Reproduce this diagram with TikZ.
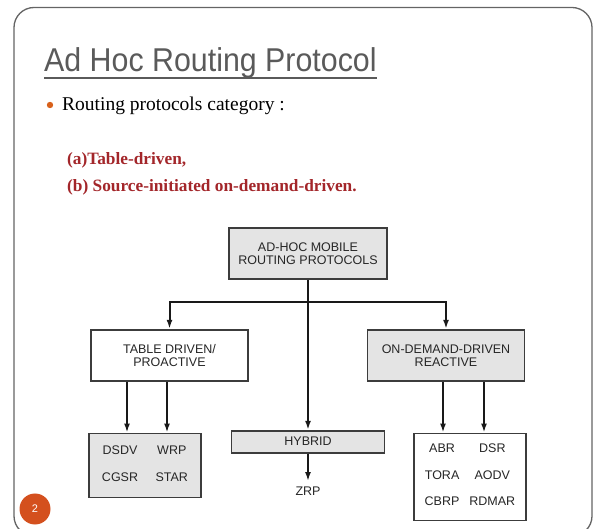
\documentclass[tikz,border=0pt]{standalone}
\usepackage{fontspec}
\setmainfont{Liberation Serif}
\setsansfont{Liberation Sans}
\usepackage{tikz}
\usetikzlibrary{positioning,arrows.meta}
\definecolor{boxgray}{RGB}{228,228,228}
\definecolor{edgegray}{RGB}{60,60,60}
\definecolor{titlegray}{RGB}{90,90,90}
\definecolor{framegray}{RGB}{100,100,100}
\definecolor{darkred}{RGB}{163,38,42}
\definecolor{slideorange}{RGB}{212,80,30}
\tikzstyle{rootbox} = [rectangle, minimum width=158pt, minimum height=51pt, text centered, align=center, draw=edgegray, line width=1.7pt, fill=boxgray, text=black!85, font=\sffamily\fontsize{12.5}{13}\selectfont]
\tikzstyle{catbox} = [rootbox, minimum width=157pt]
\tikzstyle{listbox} = [rootbox, minimum width=112pt]
\tikzstyle{arrow} = [line width=2pt, -{Latex[length=9pt,width=6pt]}, black!90]
\begin{document}
\begin{tikzpicture}[x=1pt, y=-1pt]
		\useasboundingbox (0,0) rectangle (595,529);

		% Slide frame and header
		\draw[framegray, line width=1.3pt, rounded corners=20pt] (14,7.5) rectangle (592,536);
		\node (title) [anchor=base west, inner sep=0pt, text=titlegray, font=\sffamily\fontsize{33}{33}\selectfont] at (44,72) {\scalebox{0.92}[1]{Ad Hoc Routing Protocol}};
		\draw[titlegray, line width=1.8pt] ([yshift=-6pt]title.base west) -- ([yshift=-6pt]title.base east);
		\fill[slideorange!90!yellow] (50,105) circle (3.2);
		\node (category) [anchor=base west, inner sep=0pt, font=\fontsize{19.5}{20}\selectfont] at (62,111) {Routing protocols category :};
		\node (tabletype) [anchor=base west, inner sep=0pt, text=darkred, font=\bfseries\fontsize{17.3}{17}\selectfont] at (67,165) {(a)Table-driven,};
		\node (sourcetype) [anchor=base west, inner sep=0pt, text=darkred, font=\bfseries\fontsize{17.3}{17}\selectfont] at (67,192) {(b) Source-initiated on-demand-driven.};
		\node (pagenum) [circle, fill=slideorange, minimum size=31pt, inner sep=0pt, text=white, font=\sffamily\fontsize{11}{11}\selectfont] at (35,509) {2};

		% Nodes
		\node (root) [rootbox] at (308,253.5) {AD-HOC MOBILE\\ROUTING PROTOCOLS};

		\node (tabledriven) [catbox, fill=white, below=49pt of root, xshift=-138.5pt] {TABLE DRIVEN/\\PROACTIVE};
		\node (reactive) [catbox, below=49pt of root, xshift=138pt] {ON-DEMAND-DRIVEN\\REACTIVE};
		\node (hybrid) [rootbox, minimum width=153pt, minimum height=22pt, below=150pt of root] {HYBRID};

		\node (proact) [listbox, minimum height=64pt, below=51pt of tabledriven, xshift=-24.5pt] {\begin{tabular}{@{}c@{\hspace{17.5pt}}c@{}}DSDV & WRP\\[14pt] CGSR & STAR\end{tabular}};
		\node (reactlist) [listbox, fill=white, minimum height=87pt, below=51pt of reactive, xshift=24pt] {\begin{tabular}{@{}c@{\hspace{10pt}}c@{}}ABR & DSR\\[13.5pt] TORA & AODV\\[13.5pt] CBRP & RDMAR\end{tabular}};
		\node (zrp) [inner sep=6pt, text=black!85, font=\sffamily\fontsize{12.5}{13}\selectfont, below=27.5pt of hybrid] {ZRP};

		% Arrows
		\coordinate (split) at ([yshift=-22pt]root.south);
		\draw [arrow] (root.south) -- (hybrid.north);
		\draw [arrow] (split) -| (tabledriven.north);
		\draw [arrow] (split) -| (reactive.north);
		\draw [arrow] (hybrid.south) -- (zrp.north);

		\coordinate (pa) at ([xshift=-18pt]proact.north);
		\coordinate (pb) at ([xshift=22pt]proact.north);
		\coordinate (ra) at ([xshift=-27pt]reactlist.north);
		\coordinate (rb) at ([xshift=14pt]reactlist.north);
		\foreach \c in {pa,pb}
			\draw [arrow] (tabledriven.south -| \c) -- (\c);
		\foreach \c in {ra,rb}
			\draw [arrow] (reactive.south -| \c) -- (\c);
	\end{tikzpicture}
\end{document}
